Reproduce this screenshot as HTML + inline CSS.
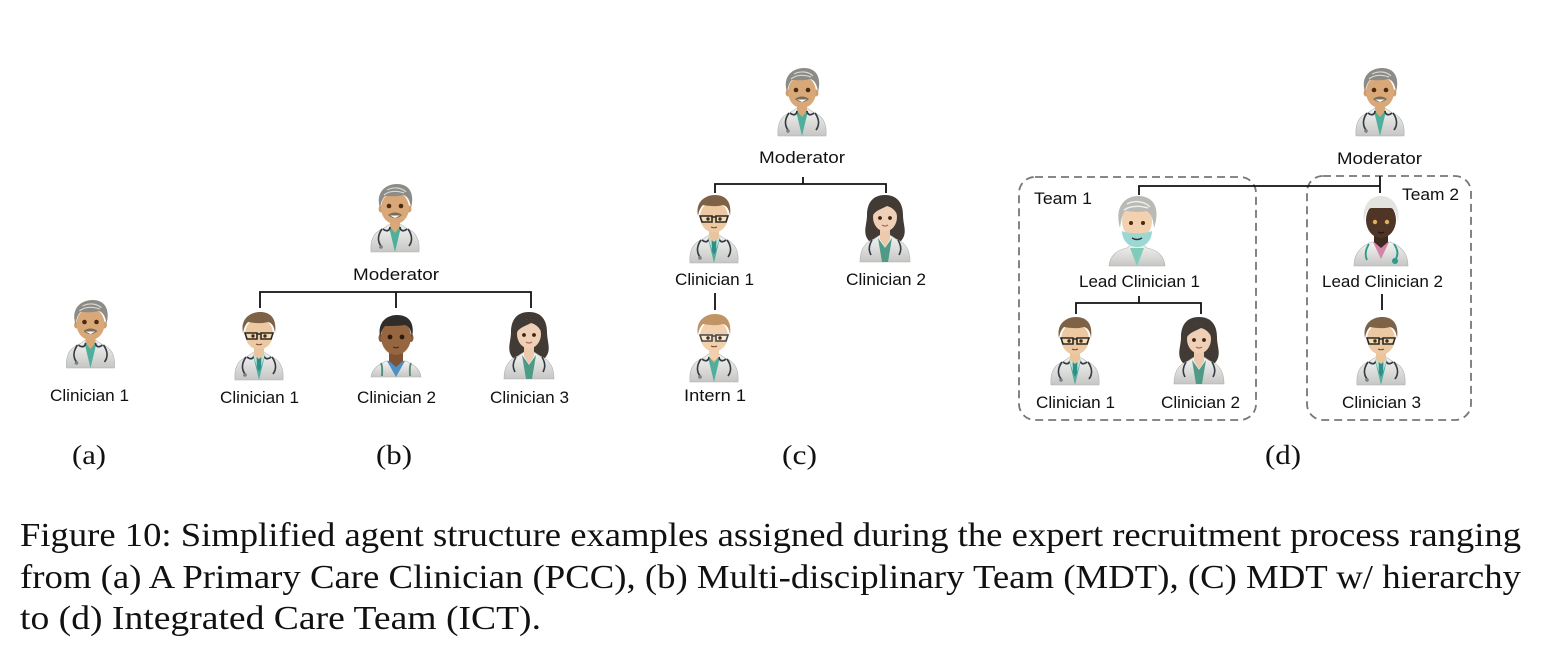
<!DOCTYPE html>
<html lang="en">
<head>
<meta charset="utf-8">
<title>Figure 10: Simplified agent structure examples</title>
<style>
html,body{margin:0;padding:0;background:#fff;width:1556px;height:672px;overflow:hidden}
svg{display:block}
.lbl{font-family:"Liberation Sans",sans-serif;font-size:17px;fill:#111}
.sub{font-family:"Liberation Serif",serif;font-size:27px;fill:#111}
.cap{font-family:"Liberation Serif",serif;font-size:33.5px;fill:#111}
.ln{stroke:#111;stroke-width:1.8;fill:none}
.dash{stroke:#777;stroke-width:1.8;fill:none;stroke-dasharray:8 5}
</style>
</head>
<body>
<svg xmlns="http://www.w3.org/2000/svg" width="1556" height="672" viewBox="0 0 1556 672">
<defs>
  <linearGradient id="coat" x1="0" y1="0" x2="0" y2="1">
    <stop offset="0" stop-color="#f4f4f2"/><stop offset="1" stop-color="#c6c6c4"/>
  </linearGradient>
  <g id="body">
    <path d="M-24 68C-25 55-21 48-11 44L-5 40H5L11 44C21 48 25 55 24 68Z" fill="url(#coat)" stroke="#b0b0ae" stroke-width=".6"/>
    <path d="M-6 43L0 68L6 43L0 39Z" fill="#4fae9c"/>
    <path d="M-5 37H5V43L0 49L-5 43Z" fill="#d9a878"/>
    <path d="M-13 45C-18 52-17 58-14 62M13 45C18 52 17 58 14 62M-12 45C-7 49-5 45-5 43M12 45C7 49 5 45 5 43" stroke="#333b45" stroke-width="1.700" fill="none"/>
    <circle cx="-14" cy="63" r="1.800" fill="#7a7f84"/>
  </g>
  <g id="face-tan">
    <ellipse cx="-14" cy="25" rx="2.400" ry="3.500" fill="#cf9c6c"/><ellipse cx="14" cy="25" rx="2.400" ry="3.500" fill="#cf9c6c"/>
    <ellipse cx="0" cy="24" rx="14" ry="16" fill="#d9a878"/>
    <circle cx="-6" cy="22" r="2.300" fill="#4b2a10"/><circle cx="6" cy="22" r="2.300" fill="#4b2a10"/>
    <path d="M-7 31Q0 26 7 31Q0 37-7 31Z" fill="#7a6a58"/><path d="M-5 31.500H5L0 34Z" fill="#fff"/>
  </g>
  <g id="avatar-moderator">
    <use href="#body"/><use href="#face-tan"/>
    <path d="M-15 24C-20 8-9 0 2 0C14 0 20 9 16 24C15 17 13 12 8 11C2 13-7 12-10 12C-13 15-14 19-15 24Z" fill="#8c8b85"/>
    <path d="M-8 6C-2 3 6 3 11 8M-11 11C-5 6 3 7 9 9" stroke="#d8d8d4" stroke-width="1.200" fill="none"/>
  </g>
  <g id="avatar-glasses">
    <use href="#body"/>
    <path d="M-6 43L0 60L6 43Z" fill="#bfe3e0"/>
    <path d="M-2.500 43H2.500L2 56L0 60L-2 56Z" fill="#2f8f88"/>
    <path d="M-5 35H5V43L0 47L-5 43Z" fill="#e9c49c"/>
    <ellipse cx="0" cy="22" rx="14" ry="15.500" fill="#ecc9a2"/>
    <path d="M-16 21C-19 6-8 0 1 0C12 0 18 7 16 21C15 14 13 11 9 10C3 12-6 11-11 10C-14 13-15 16-16 21Z" fill="#7d6246"/>
    <path d="M-14 21H-2V27H-12ZM2 21H14L12 27H2ZM-2 22H2" fill="#efdcb4" stroke="#2b2824" stroke-width="1.600"/>
    <circle cx="-6" cy="24" r="1.700" fill="#4b2a10"/><circle cx="6" cy="24" r="1.700" fill="#4b2a10"/>
    <path d="M-3 32Q0 33.500 3 32" stroke="#7a4a30" stroke-width="1.100" fill="none"/>
  </g>
  <g id="avatar-dark-clinician">
    <path d="M-25 62C-24 53-16 49-10 46H10C16 49 24 53 25 62Z" fill="url(#coat)" stroke="#b0b0ae" stroke-width=".6"/>
    <path d="M-9 46L0 62L9 46Z" fill="#4f8fc4"/>
    <path d="M-15 48C-13 53-14 57-14 61M15 48C13 53 14 57 14 61" stroke="#4f8a78" stroke-width="1.800" fill="none"/>
    <path d="M-7 37H7V46L0 52L-7 46Z" fill="#7e5232"/>
    <ellipse cx="-15" cy="23" rx="2.500" ry="4" fill="#8a5b38"/><ellipse cx="15" cy="23" rx="2.500" ry="4" fill="#8a5b38"/>
    <ellipse cx="0" cy="22" rx="15" ry="18" fill="#95663f"/>
    <path d="M-16 22C-19 6-8 0 1 0C13 0 19 8 16 22C15 15 13 11 9 10C2 11-6 11-11 11C-14 14-15 18-16 22Z" fill="#302c2a"/>
    <circle cx="-6" cy="22" r="2.400" fill="#2e1a0a"/><circle cx="6" cy="22" r="2.400" fill="#2e1a0a"/>
    <path d="M-3 32Q0 33.500 3 32" stroke="#4e2e18" stroke-width="1.200" fill="none"/>
  </g>
  <g id="avatar-woman">
    <path d="M0 0C-13 0-18 9-18 20C-18 30-23 38-16 46H16C23 38 18 30 18 20C18 9 13 0 0 0Z" fill="#423a35"/>
    <path d="M-25 67C-25 55-21 48-11 44L-5 40H5L11 44C21 48 25 55 25 67Z" fill="url(#coat)" stroke="#b0b0ae" stroke-width=".6"/>
    <path d="M-7 43L-3 67H3L7 43L0 53Z" fill="#4f9a86"/>
    <path d="M-5 33H5V44L0 52L-5 44Z" fill="#ecc8ac"/>
    <path d="M-13 45C-17 52-16 56-14 60M13 45C17 52 16 56 14 60" stroke="#333b45" stroke-width="1.600" fill="none"/>
    <ellipse cx="0" cy="22" rx="12" ry="14.500" fill="#efcfb5"/>
    <path d="M-13 22C-13 10-4 6 4 8C10 9 13 14 13 22C11 15 6 12 2 11C-3 14-10 15-13 22Z" fill="#423a35"/>
    <circle cx="-5" cy="23" r="1.900" fill="#3a2412"/><circle cx="5" cy="23" r="1.900" fill="#3a2412"/>
    <path d="M-3 30Q0 32 3 30" stroke="#b5665a" stroke-width="1.200" fill="none"/>
  </g>
  <g id="avatar-lead-one">
    <path d="M-28 69C-27 58-20 53-10 51L-5 47H5L10 51C20 53 27 58 28 69Z" fill="url(#coat)" stroke="#b0b0ae" stroke-width=".6"/>
    <path d="M-7 51L0 69L7 51Z" fill="#7fcdb8"/>
    <ellipse cx="0" cy="24" rx="15" ry="18" fill="#f1d1b0"/>
    <path d="M-17 31C-23 10-12-1 1-1C16-1 24 10 17 31C16 21 14 16 9 14C2 16-8 14-12 14C-15 18-16 24-17 31Z" fill="#b9b9b5"/>
    <path d="M-10 7C-3 3 7 4 13 10M-13 13C-6 8 4 9 11 11" stroke="#eeeeea" stroke-width="1.400" fill="none"/>
    <circle cx="-6" cy="26" r="2" fill="#4b2a10"/><circle cx="6" cy="26" r="2" fill="#4b2a10"/>
    <path d="M-15 34C-8 37 8 37 15 34C15 44 8 50 0 50C-8 50-15 44-15 34Z" fill="#9bd8d4"/>
    <path d="M-5 41Q0 44 5 41" stroke="#333" stroke-width="1.600" fill="none"/>
  </g>
  <g id="avatar-lead-two">
    <path d="M-27 70C-27 57-20 50-9 46H9C20 50 27 57 27 70Z" fill="url(#coat)" stroke="#b0b0ae" stroke-width=".6"/>
    <path d="M-8 46L0 63L8 46Z" fill="#d186a8"/>
    <path d="M-12 48C-16 54-16 60-14 64M13 48C18 55 17 60 14 64" stroke="#2f9a8c" stroke-width="1.900" fill="none"/>
    <circle cx="14" cy="65" r="3" fill="#2f9a8c"/>
    <path d="M-7 38H7V46L0 52L-7 46Z" fill="#3f2a1e"/>
    <ellipse cx="0" cy="24" rx="15" ry="18" fill="#4e3526"/>
    <path d="M-17 27C-20 7-9 0 0 0C9 0 20 7 17 27C16 18 14 13 10 12H-10C-14 13-16 18-17 27Z" fill="#e3e3df"/>
    <circle cx="-6" cy="26" r="2.200" fill="#e0b060"/><circle cx="6" cy="26" r="2.200" fill="#e0b060"/>
    <path d="M-3 36Q0 38 3 36" stroke="#241510" stroke-width="1.300" fill="none"/>
  </g>
  <g id="avatar-intern">
    <use href="#body"/>
    <path d="M-5 35H5V43L0 47L-5 43Z" fill="#f1d0ae"/>
    <ellipse cx="0" cy="22" rx="14" ry="15.500" fill="#f1d0ae"/>
    <path d="M-16 21C-19 6-8 0 1 0C12 0 18 7 16 21C15 14 13 11 9 10C3 12-6 11-11 10C-14 13-15 16-16 21Z" fill="#c09464"/>
    <path d="M-14 21H-2V27H-12ZM2 21H14L12 27H2ZM-2 22H2" fill="#f5ead8" stroke="#484846" stroke-width="1.600"/>
    <circle cx="-6" cy="24" r="1.700" fill="#4b2a10"/><circle cx="6" cy="24" r="1.700" fill="#4b2a10"/>
    <path d="M-3 32Q0 33.500 3 32" stroke="#7a4a30" stroke-width="1.100" fill="none"/>
  </g>
</defs>

<!-- (a) -->
<g>
  <use href="#avatar-moderator" transform="translate(90.500,300)"/>
  <text class="lbl" x="50" y="401" textLength="79" lengthAdjust="spacingAndGlyphs">Clinician 1</text>
  <text class="sub" x="72" y="464" textLength="34" lengthAdjust="spacingAndGlyphs">(a)</text>
</g>

<!-- (b) -->
<g>
  <use href="#avatar-moderator" transform="translate(395,184)"/>
  <text class="lbl" x="353" y="280" textLength="86" lengthAdjust="spacingAndGlyphs">Moderator</text>
  <path class="ln" d="M260 308V292H531V308M396 292V308"/>
  <use href="#avatar-glasses" transform="translate(259,312)"/>
  <use href="#avatar-dark-clinician" transform="translate(396,315)"/>
  <use href="#avatar-woman" transform="translate(529,312)"/>
  <text class="lbl" x="220" y="403" textLength="79" lengthAdjust="spacingAndGlyphs">Clinician 1</text>
  <text class="lbl" x="357" y="403" textLength="79" lengthAdjust="spacingAndGlyphs">Clinician 2</text>
  <text class="lbl" x="490" y="403" textLength="79" lengthAdjust="spacingAndGlyphs">Clinician 3</text>
  <text class="sub" x="376" y="464" textLength="36" lengthAdjust="spacingAndGlyphs">(b)</text>
</g>

<!-- (c) -->
<g>
  <use href="#avatar-moderator" transform="translate(802,68)"/>
  <text class="lbl" x="759" y="163" textLength="86" lengthAdjust="spacingAndGlyphs">Moderator</text>
  <path class="ln" d="M715 193V184H886V193M803 177V184"/>
  <use href="#avatar-glasses" transform="translate(714,195)"/>
  <use href="#avatar-woman" transform="translate(885,195)"/>
  <text class="lbl" x="675" y="285" textLength="79" lengthAdjust="spacingAndGlyphs">Clinician 1</text>
  <text class="lbl" x="846" y="285" textLength="80" lengthAdjust="spacingAndGlyphs">Clinician 2</text>
  <path class="ln" d="M715 293V310"/>
  <use href="#avatar-intern" transform="translate(714,314)"/>
  <text class="lbl" x="684" y="401" textLength="62" lengthAdjust="spacingAndGlyphs">Intern 1</text>
  <text class="sub" x="782" y="464" textLength="35" lengthAdjust="spacingAndGlyphs">(c)</text>
</g>

<!-- (d) -->
<g>
  <rect class="dash" x="1019" y="177" width="237" height="243" rx="16"/>
  <rect class="dash" x="1307" y="176" width="164" height="244" rx="16"/>
  <use href="#avatar-moderator" transform="translate(1380,68)"/>
  <text class="lbl" x="1337" y="164" textLength="85" lengthAdjust="spacingAndGlyphs">Moderator</text>
  <path class="ln" d="M1139 195V186H1380M1380 176V193"/>
  <text class="lbl" x="1034" y="204" textLength="58" lengthAdjust="spacingAndGlyphs">Team 1</text>
  <text class="lbl" x="1402" y="200" textLength="57" lengthAdjust="spacingAndGlyphs">Team 2</text>
  <use href="#avatar-lead-one" transform="translate(1137,197)"/>
  <use href="#avatar-lead-two" transform="translate(1381,196)"/>
  <text class="lbl" x="1079" y="287" textLength="121" lengthAdjust="spacingAndGlyphs">Lead Clinician 1</text>
  <text class="lbl" x="1322" y="287" textLength="121" lengthAdjust="spacingAndGlyphs">Lead Clinician 2</text>
  <path class="ln" d="M1076 314V303H1201V314M1139 296V303"/>
  <path class="ln" d="M1382 294V310"/>
  <use href="#avatar-glasses" transform="translate(1075,317)"/>
  <use href="#avatar-woman" transform="translate(1199,317)"/>
  <use href="#avatar-glasses" transform="translate(1381,317)"/>
  <text class="lbl" x="1036" y="408" textLength="79" lengthAdjust="spacingAndGlyphs">Clinician 1</text>
  <text class="lbl" x="1161" y="408" textLength="79" lengthAdjust="spacingAndGlyphs">Clinician 2</text>
  <text class="lbl" x="1342" y="408" textLength="79" lengthAdjust="spacingAndGlyphs">Clinician 3</text>
  <text class="sub" x="1265" y="464" textLength="36" lengthAdjust="spacingAndGlyphs">(d)</text>
</g>

<!-- caption -->
<g>
  <text class="cap" x="20" y="546" textLength="1501" lengthAdjust="spacingAndGlyphs">Figure 10: Simplified agent structure examples assigned during the expert recruitment process ranging</text>
  <text class="cap" x="20" y="588" textLength="1501" lengthAdjust="spacingAndGlyphs">from (a) A Primary Care Clinician (PCC), (b) Multi-disciplinary Team (MDT), (C) MDT w/ hierarchy</text>
  <text class="cap" x="20" y="629" textLength="521" lengthAdjust="spacingAndGlyphs">to (d) Integrated Care Team (ICT).</text>
</g>
</svg>
</body>
</html>
